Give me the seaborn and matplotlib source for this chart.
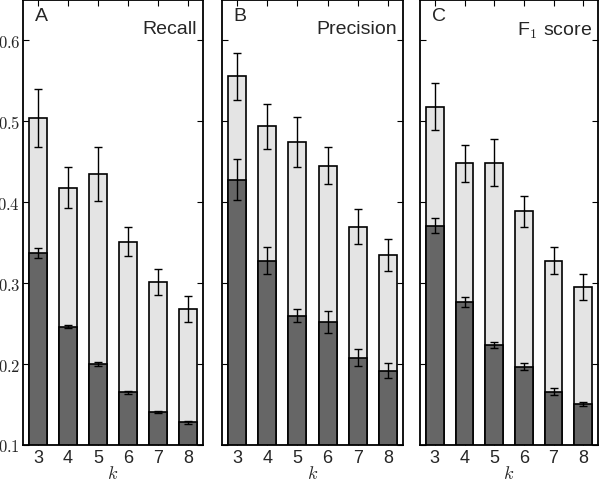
import numpy as np
import pandas as pd
import matplotlib
matplotlib.use("Agg")
import matplotlib.pyplot as plt
import seaborn as sns

sns.set_theme(style="white")
plt.rcParams['font.family'] = ['Liberation Sans', 'DejaVu Sans']
plt.rcParams['mathtext.fontset'] = 'cm'

k_values = [3, 4, 5, 6, 7, 8]

recall_light = [0.504, 0.418, 0.435, 0.351, 0.302, 0.268]
recall_light_err = [0.036, 0.025, 0.033, 0.018, 0.016, 0.016]
recall_dark = [0.337, 0.246, 0.200, 0.165, 0.141, 0.128]
recall_dark_err = [0.006, 0.002, 0.002, 0.0015, 0.0015, 0.0015]

precision_light = [0.556, 0.494, 0.474, 0.445, 0.370, 0.335]
precision_light_err = [0.029, 0.028, 0.031, 0.023, 0.022, 0.020]
precision_dark = [0.428, 0.328, 0.260, 0.252, 0.208, 0.192]
precision_dark_err = [0.025, 0.017, 0.0085, 0.014, 0.0105, 0.0097]

f1_light = [0.518, 0.448, 0.449, 0.389, 0.328, 0.295]
f1_light_err = [0.029, 0.023, 0.029, 0.019, 0.017, 0.016]
f1_dark = [0.371, 0.277, 0.224, 0.197, 0.166, 0.151]
f1_dark_err = [0.0095, 0.006, 0.0037, 0.0047, 0.004, 0.0027]

panels = [
    ("A", "Recall", recall_light, recall_light_err, recall_dark, recall_dark_err),
    ("B", "Precision", precision_light, precision_light_err, precision_dark, precision_dark_err),
    ("C", r"F$_1$ score", f1_light, f1_light_err, f1_dark, f1_dark_err),
]

light_color = "#e4e4e4"
dark_color = "#666666"

fig = plt.figure(figsize=(6.0, 4.81), dpi=100)
lefts = [23, 222, 420]
widths = [180, 181, 178]
W, H = 600, 481
bottom_px, top_px = 446, 1

for i, (letter, title, lv, le, dv, de) in enumerate(panels):
    ax = fig.add_axes([lefts[i] / W, (H - bottom_px) / H, widths[i] / W, (bottom_px - top_px) / H])
    df_l = pd.DataFrame({"k": [str(k) for k in k_values], "v": lv})
    df_d = pd.DataFrame({"k": [str(k) for k in k_values], "v": dv})
    sns.barplot(data=df_l, x="k", y="v", color=light_color, width=0.6, saturation=1,
                edgecolor="black", linewidth=1.2, errorbar=None, ax=ax)
    sns.barplot(data=df_d, x="k", y="v", color=dark_color, width=0.6, saturation=1,
                edgecolor="black", linewidth=1.2, errorbar=None, ax=ax)
    xs = np.arange(len(k_values))
    ax.errorbar(xs, lv, yerr=le, fmt="none", ecolor="black", elinewidth=1.0, capsize=3, capthick=1.0, zorder=5)
    ax.errorbar(xs, dv, yerr=de, fmt="none", ecolor="black", elinewidth=1.0, capsize=3, capthick=1.0, zorder=5)
    ax.set_xlim(-0.5, 5.5)
    ax.set_ylim(0.1, 0.65)
    ax.set_yticks([0.1, 0.2, 0.3, 0.4, 0.5, 0.6])
    if i == 0:
        ax.set_yticklabels([r"$%.1f$" % t for t in [0.1, 0.2, 0.3, 0.4, 0.5, 0.6]], fontsize=12)
    else:
        ax.set_yticklabels([])
    ax.set_xticks(xs)
    ax.set_xticklabels([str(k) for k in k_values], fontsize=13)
    ax.tick_params(axis="both", direction="in", length=4, width=0.8, color="black",
                   top=True, right=True, left=True, bottom=True, pad=3)
    ax.tick_params(axis="y", pad=2)
    ax.set_xlabel(r"$k$", fontsize=13, labelpad=-1)
    ax.set_ylabel("")
    for s in ax.spines.values():
        s.set_visible(True)
        s.set_color("black")
        s.set_linewidth(1.3)
    ax.text(0.065, 0.985, letter, transform=ax.transAxes, ha="left", va="top", fontsize=14)
    ax.text(0.965, 0.955, title, transform=ax.transAxes, ha="right", va="top", fontsize=14)

fig.savefig("out.png", dpi=100)
